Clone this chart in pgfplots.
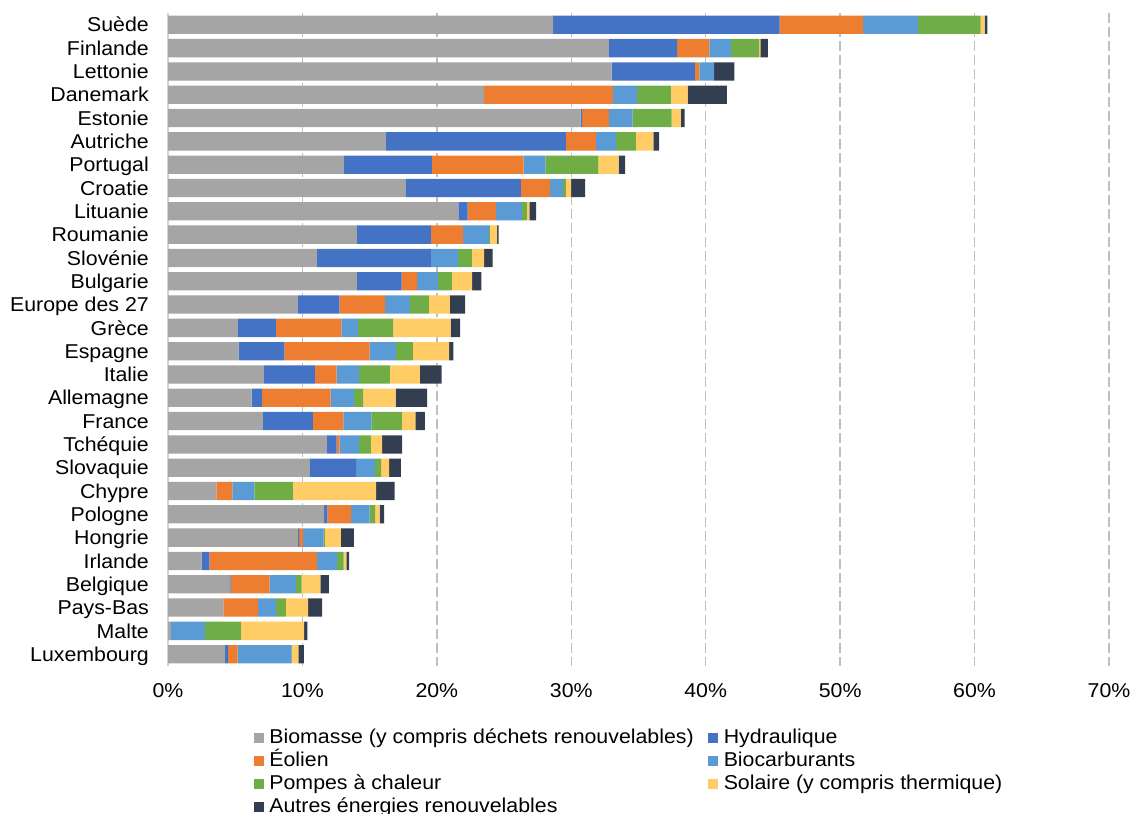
\documentclass[border=0pt]{standalone}
\usepackage{fontspec}
\setmainfont{Liberation Sans}[FakeStretch=1.065]
\usepackage{pgfplots}
\usepackage{pgfplotstable}
\pgfplotsset{compat=1.18}
\definecolor{cBio}{HTML}{A5A5A5}
\definecolor{cHyd}{HTML}{4472C4}
\definecolor{cEol}{HTML}{ED7D31}
\definecolor{cBcb}{HTML}{5B9BD5}
\definecolor{cPac}{HTML}{70AD47}
\definecolor{cSol}{HTML}{FFCC66}
\definecolor{cAut}{HTML}{333F50}
\pgfplotstableread{
idx bio hyd eol bcb pac sol aut
0 28.65 16.85 6.2 4.1 4.65 0.3 0.2
1 32.8 5.07 2.4 1.61 2.09 0.1 0.56
2 33.0 6.2 0.33 1.09 0 0 1.51
3 23.5 0 9.6 1.8 2.5 1.26 2.92
4 30.7 0.1 2.0 1.77 2.9 0.69 0.28
5 16.2 13.4 2.22 1.51 1.47 1.31 0.42
6 13.09 6.54 6.82 1.63 3.94 1.51 0.47
7 17.7 8.55 2.18 0.96 0.2 0.4 1.04
8 21.6 0.68 2.13 1.91 0.37 0.2 0.49
9 14.05 5.5 2.41 1.93 0.05 0.55 0.1
10 11.08 8.47 0 2.03 1.02 0.92 0.62
11 14.05 3.32 1.17 1.53 1.05 1.51 0.69
12 9.67 3.07 3.42 1.83 1.41 1.57 1.13
13 5.2 2.83 4.86 1.24 2.62 4.27 0.72
14 5.25 3.4 6.35 1.97 1.25 2.7 0.3
15 7.14 3.79 1.61 1.68 2.28 2.24 1.61
16 6.22 0.77 5.11 1.75 0.67 2.41 2.35
17 7.06 3.72 2.26 2.08 2.28 1.01 0.7
18 11.82 0.72 0.22 1.46 0.87 0.84 1.49
19 10.56 3.44 0 1.41 0.45 0.59 0.87
20 3.59 0 1.19 1.64 2.87 6.2 1.36
21 11.62 0.23 1.78 1.37 0.41 0.33 0.34
22 9.67 0.09 0.3 1.51 0.1 1.19 0.97
23 2.5 0.57 8.01 1.51 0.47 0.2 0.22
24 4.56 0.1 2.9 1.98 0.4 1.39 0.64
25 4.11 0 2.6 1.34 0.72 1.66 1.04
26 0.22 0 0 2.53 2.68 4.7 0.23
27 4.24 0.24 0.7 4.02 0.02 0.47 0.42
}\data
\begin{document}
\begin{tikzpicture}[font=\fontsize{20.1}{24}\selectfont]
\begin{axis}[
  at={(168bp,148.15bp)}, anchor=south west,
  scale only axis, width=941bp, height=652.7bp,
  xbar stacked, bar width=18.3bp,
  xmin=0, xmax=70, ymin=-0.5, ymax=27.5, y dir=reverse,
  ytick={0,...,27},
  yticklabels={Suède,Finlande,Lettonie,Danemark,Estonie,Autriche,Portugal,Croatie,Lituanie,Roumanie,Slovénie,Bulgarie,Europe des 27,Grèce,Espagne,Italie,Allemagne,France,Tchéquie,Slovaquie,Chypre,Pologne,Hongrie,Irlande,Belgique,Pays-Bas,Malte,Luxembourg},
  xtick={0,10,...,70},
  xticklabels={0\%,10\%,20\%,30\%,40\%,50\%,60\%,70\%},
  /pgf/number format/assume math mode=true,
  major tick length=0pt,
  xmajorgrids,
  grid style={gray!50, line width=1.3bp, dash pattern=on 10bp off 4bp},
  axis line style={draw=none},
  extra x ticks={0}, extra x tick labels={},
  extra x tick style={grid style={solid, draw=gray!35, line width=1.5bp}},
  yticklabel style={anchor=east, inner sep=0pt, xshift=-19bp, text height=14.3bp, text depth=0pt},
  xticklabel style={anchor=north, inner sep=0pt, yshift=-17bp, text height=14.3bp, text depth=0pt},
  legend style={at={(axis description cs:0.0913,-0.0957)}, anchor=north west,
    draw=none, fill=none, inner sep=0pt, outer sep=0pt,
    column sep=0pt, row sep=2.8bp,
    /tikz/every odd column/.append style={column sep=5.5bp},
    /tikz/every even column/.append style={column sep=14.5bp},
    nodes={inner sep=0pt, text height=15.5bp, text depth=4.5bp}},
  legend columns=2, legend cell align=left,
  legend image code/.code={\fill[#1] (0bp,-5bp) rectangle (10bp,5bp);},
]
\addplot[fill=cBio, draw=none] table[x=bio, y=idx] {\data};
\addplot[fill=cHyd, draw=none] table[x=hyd, y=idx] {\data};
\addplot[fill=cEol, draw=none] table[x=eol, y=idx] {\data};
\addplot[fill=cBcb, draw=none] table[x=bcb, y=idx] {\data};
\addplot[fill=cPac, draw=none] table[x=pac, y=idx] {\data};
\addplot[fill=cSol, draw=none] table[x=sol, y=idx] {\data};
\addplot[fill=cAut, draw=none] table[x=aut, y=idx] {\data};
\legend{Biomasse (y compris déchets renouvelables),Hydraulique,Éolien,Biocarburants,Pompes à chaleur,Solaire (y compris thermique),Autres énergies renouvelables}
\end{axis}
\pgfresetboundingbox
\path[use as bounding box] (0,0) rectangle (1132bp,814bp);
\end{tikzpicture}
\end{document}
